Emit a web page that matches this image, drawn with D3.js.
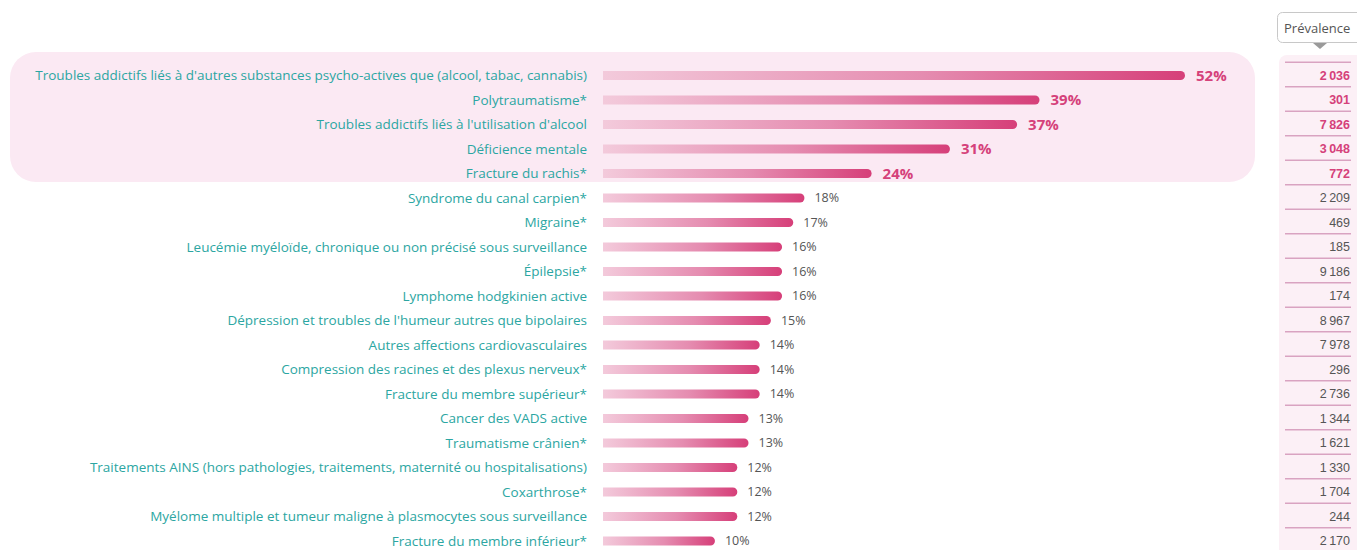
<!DOCTYPE html>
<html>
<head>
<meta charset="utf-8">
<script src="https://cdn.jsdelivr.net/npm/d3@7"></script>
<style>
  body { margin: 0; background: #fff; }
  svg { display: block; }
</style>
</head>
<body>
<div id="chart"></div>
<script>
var width = 1357, height = 550;

var labels = [
  "Troubles addictifs liés à d'autres substances psycho-actives que (alcool, tabac, cannabis)",
  "Polytraumatisme*",
  "Troubles addictifs liés à l'utilisation d'alcool",
  "Déficience mentale",
  "Fracture du rachis*",
  "Syndrome du canal carpien*",
  "Migraine*",
  "Leucémie myéloïde, chronique ou non précisé sous surveillance",
  "Épilepsie*",
  "Lymphome hodgkinien active",
  "Dépression et troubles de l'humeur autres que bipolaires",
  "Autres affections cardiovasculaires",
  "Compression des racines et des plexus nerveux*",
  "Fracture du membre supérieur*",
  "Cancer des VADS active",
  "Traumatisme crânien*",
  "Traitements AINS (hors pathologies, traitements, maternité ou hospitalisations)",
  "Coxarthrose*",
  "Myélome multiple et tumeur maligne à plasmocytes sous surveillance",
  "Fracture du membre inférieur*"
];
var pct = [52, 39, 37, 31, 24, 18, 17, 16, 16, 16, 15, 14, 14, 14, 13, 13, 12, 12, 12, 10];
var prevalence = ["2 036", "301", "7 826", "3 048", "772", "2 209", "469", "185", "9 186", "174",
  "8 967", "7 978", "296", "2 736", "1 344", "1 621", "1 330", "1 704", "244", "2 170"];
var nHighlight = 5;

var pink = "#d5417a", teal = "#2ca6a2", grey = "#555";

var svg = d3.select("#chart").append("svg")
  .attr("width", width)
  .attr("height", height);

var defs = svg.append("defs");
var grad = defs.append("linearGradient").attr("id", "barGrad")
  .attr("x1", "0%").attr("x2", "100%").attr("y1", "0%").attr("y2", "0%");
grad.append("stop").attr("offset", "0%").attr("stop-color", "#f3cadb");
grad.append("stop").attr("offset", "55%").attr("stop-color", "#e58cb0");
grad.append("stop").attr("offset", "100%").attr("stop-color", "#d63f79");

var x = d3.scaleLinear().domain([0, 52]).range([603, 1185]);
var y = d3.scaleBand().domain(d3.range(labels.length)).range([55.5, 561]).padding(0.635);
var bh = y.bandwidth();
var rowStep = y.step();

// highlighted group background
svg.append("rect")
  .attr("x", 10).attr("y", 52)
  .attr("width", 1245).attr("height", 130)
  .attr("rx", 26)
  .attr("fill", "#fbe9f3");

// category labels
svg.append("g").selectAll("text")
  .data(labels)
  .enter().append("text")
  .attr("x", 587)
  .attr("y", function(d, i){ return y(i) + bh / 2; })
  .attr("dy", "0.35em")
  .attr("text-anchor", "end")
  .style("font-family", "Open Sans")
  .style("font-size", "13.5px")
  .style("fill", teal)
  .text(function(d){ return d; });

// bars: flat left, rounded right end
svg.append("g").selectAll("path")
  .data(pct)
  .enter().append("path")
  .attr("fill", "url(#barGrad)")
  .attr("d", function(d, i){
    var x0 = x(0), x1 = x(d), y0 = y(i), r = bh / 2;
    var p = d3.path();
    p.moveTo(x0, y0);
    p.lineTo(x1 - r, y0);
    p.arc(x1 - r, y0 + r, r, -Math.PI / 2, Math.PI / 2);
    p.lineTo(x0, y0 + bh);
    p.closePath();
    return p.toString();
  });

// value labels
svg.append("g").selectAll("text")
  .data(pct)
  .enter().append("text")
  .attr("x", function(d, i){ return x(d) + (i < nHighlight ? 11 : 10); })
  .attr("y", function(d, i){ return y(i) + bh / 2; })
  .attr("dy", "0.35em")
  .style("font-family", "Open Sans")
  .style("font-size", function(d, i){ return i < nHighlight ? "15px" : "12.5px"; })
  .style("font-weight", function(d, i){ return i < nHighlight ? "bold" : "normal"; })
  .style("fill", function(d, i){ return i < nHighlight ? pink : grey; })
  .text(function(d){ return d + "%"; });

// prevalence column
var col = svg.append("g");
col.append("rect")
  .attr("x", 1279).attr("y", 55)
  .attr("width", 90).attr("height", 510)
  .attr("rx", 8)
  .attr("fill", "#fcf0f6");

col.append("rect")
  .attr("x", 1277.5).attr("y", 12.5)
  .attr("width", 90).attr("height", 30)
  .attr("rx", 5)
  .attr("fill", "#fff")
  .attr("stroke", "#c8c8c8");
col.append("path")
  .attr("d", "M1313,43 L1327,43 L1320,49 Z")
  .attr("fill", "#9a9a9a");
col.append("text")
  .attr("x", 1284).attr("y", 28)
  .attr("dy", "0.35em")
  .style("font-family", "Open Sans")
  .style("font-size", "13px")
  .style("fill", "#555")
  .text("Prévalence");

col.selectAll("line")
  .data(d3.range(labels.length + 1))
  .enter().append("line")
  .attr("x1", 1285).attr("x2", 1351)
  .attr("y1", function(i){ return y(0) + bh / 2 - rowStep / 2 - 1 + i * rowStep; })
  .attr("y2", function(i){ return y(0) + bh / 2 - rowStep / 2 - 1 + i * rowStep; })
  .attr("stroke", "#d9a3c1")
  .attr("stroke-width", 1.5);

col.selectAll("text.prev")
  .data(prevalence)
  .enter().append("text")
  .attr("class", "prev")
  .attr("x", 1350)
  .attr("y", function(d, i){ return y(i) + bh / 2; })
  .attr("dy", "0.35em")
  .attr("text-anchor", "end")
  .style("font-family", "Liberation Sans")
  .style("font-size", "12.5px")
  .style("font-weight", function(d, i){ return i < nHighlight ? "bold" : "normal"; })
  .style("fill", function(d, i){ return i < nHighlight ? pink : grey; })
  .text(function(d){ return d.replace(" ", "\u2009"); });
</script>
</body>
</html>
